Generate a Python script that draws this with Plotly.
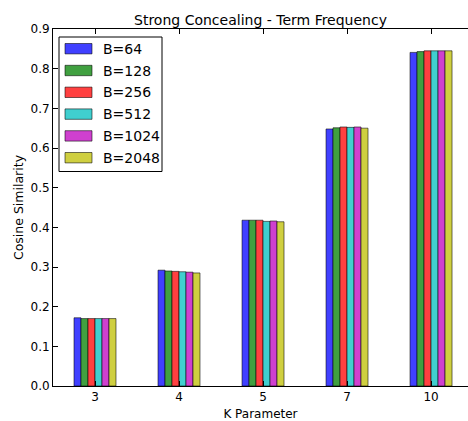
import plotly.graph_objects as go

categories = ["3", "4", "5", "7", "10"]
series_names = ["B=64", "B=128", "B=256", "B=512", "B=1024", "B=2048"]
values = {
    "B=64":   [0.172, 0.292, 0.418, 0.648, 0.841],
    "B=128":  [0.170, 0.290, 0.418, 0.651, 0.843],
    "B=256":  [0.170, 0.289, 0.418, 0.653, 0.845],
    "B=512":  [0.170, 0.288, 0.415, 0.652, 0.845],
    "B=1024": [0.170, 0.287, 0.416, 0.653, 0.845],
    "B=2048": [0.170, 0.285, 0.414, 0.650, 0.845],
}
colors = ["#4040ff", "#40a040", "#ff4040", "#40cfcf", "#cf40cf", "#cfcf40"]
y_ticks = [0.0, 0.1, 0.2, 0.3, 0.4, 0.5, 0.6, 0.7, 0.8, 0.9]

W, H = 468, 421
ML, MR, MT, MB = 53, 0, 29, 35
PW, PH = W - ML - MR, H - MT - MB
edge = "rgba(0,0,0,0.55)"

def px(x):
    return (x - ML) / PW

def py(y):
    return (H - MB - y) / PH

fig = go.Figure()
for name, col in zip(series_names, colors):
    fig.add_trace(go.Bar(
        x=list(range(len(categories))), y=values[name], name=name,
        marker=dict(color=col, line=dict(color=edge, width=1)),
        showlegend=False,
    ))

shapes = []
annotations = []
# legend frame
shapes.append(dict(type="rect", xref="paper", yref="paper",
                   x0=px(59), x1=px(162), y0=py(171.5), y1=py(37),
                   line=dict(color="black", width=1), fillcolor="white", layer="above"))
for i, (name, col) in enumerate(zip(series_names, colors)):
    cy = 48.7 + i * 21.8
    shapes.append(dict(type="rect", xref="paper", yref="paper",
                       x0=px(65), x1=px(92), y0=py(cy + 5.2), y1=py(cy - 5.2),
                       line=dict(color=edge, width=1), fillcolor=col, layer="above"))
    annotations.append(dict(text=name, xref="paper", yref="paper",
                            x=px(101), y=py(cy), xanchor="left", yanchor="middle",
                            showarrow=False, font=dict(size=14, color="black")))

font = "DejaVu Sans, sans-serif"
fig.update_layout(
    width=W, height=H,
    margin=dict(l=ML, r=MR, t=MT, b=MB, autoexpand=False),
    paper_bgcolor="white", plot_bgcolor="white",
    barmode="group", bargap=0.5, bargroupgap=0,
    font=dict(family=font, size=12, color="black"),
    title=dict(text="Strong Concealing - Term Frequency", x=0.5, xanchor="center",
               xref="paper", y=1, yref="paper", yanchor="bottom", pad=dict(b=4),
               font=dict(size=14)),
    showlegend=False,
    shapes=shapes, annotations=annotations,
    xaxis=dict(
        tickmode="array", tickvals=list(range(len(categories))), ticktext=categories,
        range=[-0.5, 4.44], showgrid=False, zeroline=False, automargin=False,
        showline=True, linecolor="black", linewidth=1, mirror="ticks",
        ticks="inside", ticklen=5, tickcolor="black",
        title=dict(text="K Parameter", font=dict(size=12), standoff=6),
    ),
    yaxis=dict(
        tickmode="array", tickvals=y_ticks, ticktext=[f"{v:.1f}" for v in y_ticks],
        range=[0, 0.9], showgrid=False, zeroline=False, automargin=False,
        showline=True, linecolor="black", linewidth=1,
        ticks="inside", ticklen=5, tickcolor="black",
        title=dict(text="Cosine Similarity", font=dict(size=12.5), standoff=4),
    ),
)

fig.write_html("out.html")
